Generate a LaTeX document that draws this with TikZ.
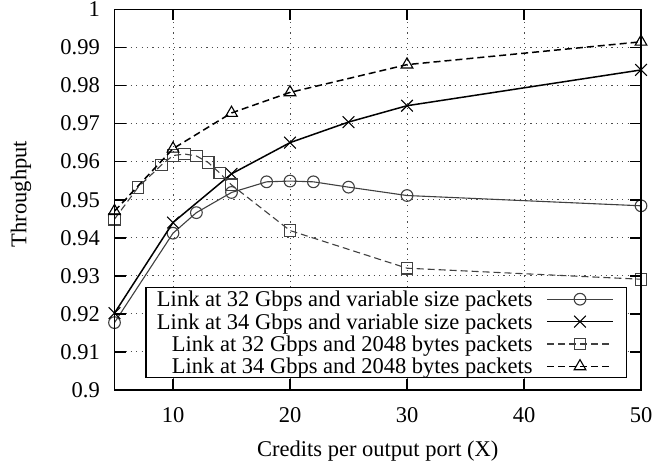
\documentclass[tikz,border=0pt]{standalone}
\usepackage{fontspec}
\setmainfont{Liberation Serif}
\usetikzlibrary{shapes.geometric,shapes.misc}

\tikzset{
  lbl/.style={font=\fontsize{22.5bp}{26bp}\selectfont, inner sep=0pt},
  frame/.style={line width=1.6bp, black},
  tickmark/.style={line width=1.6bp, black},
  gridline/.style={black!70, line width=0.9bp, dash pattern=on 1.2bp off 4.2bp},
  mk/.style={draw, inner sep=0pt, outer sep=0pt, minimum size=11.7bp, line width=1.1bp},
  mkcirc/.style={mk, circle},
  mksq/.style={mk, rectangle},
  mktri/.style={mk, regular polygon, regular polygon sides=3, minimum size=13.5bp},
  mkx/.style={mk, cross out},
  serA/.style={black!75, line width=1.1bp},
  serB/.style={black, line width=1.5bp},
  serC/.style={black!75, line width=1.1bp, dash pattern=on 7bp off 4bp},
  serD/.style={black, line width=1.5bp, dash pattern=on 7bp off 4bp},
  legendbox/.style={draw, fill=white, line width=1.5bp, inner sep=0pt, outer sep=0pt,
    minimum width=480.7bp, minimum height=90bp, anchor=north west}
}

\begin{document}
\begin{tikzpicture}[x=1bp,y=-1bp]
\useasboundingbox (0,0) rectangle (664,463);

\begin{scope}[shift={(56,3814.5)}, x=11.7bp, y=38.05bp]
  % grid
  \foreach \v in {91,...,99} \draw[gridline] (5,\v) -- (50,\v);
  \foreach \u in {10,20,30,40} \draw[gridline] (\u,90) -- (\u,100);

  % data series A: 32 Gbps variable size (circles)
  \foreach \x/\y [count=\i] in {5/91.77,10/94.12,12/94.66,15/95.19,18/95.47,20/95.49,22/95.47,25/95.33,30/95.11,50/94.84}
    \node[mkcirc, black!75] (a\i) at (\x,\y) {};
  \draw[serA] (a1.center) \foreach \i in {2,...,10} {-- (a\i.center)};

  % data series B: 34 Gbps variable size (crosses)
  \foreach \x/\y [count=\i] in {5/92.02,10/94.40,15/95.68,20/96.50,25/97.04,30/97.47,50/98.41}
    \node[mkx, black] (b\i) at (\x,\y) {};
  \draw[serB] (b1.center) \foreach \i in {2,...,7} {-- (b\i.center)};

  % data series C: 32 Gbps 2048 bytes (squares)
  \foreach \x/\y [count=\i] in {5/94.49,7/95.32,9/95.91,10/96.16,11/96.20,12/96.15,13/95.98,14/95.70,15/95.39,20/94.19,30/93.20,50/92.91}
    \node[mksq, black!75] (c\i) at (\x,\y) {};
  \draw[serC] (c1.center) \foreach \i in {2,...,12} {-- (c\i.center)};

  % data series D: 34 Gbps 2048 bytes (triangles)
  \foreach \x/\y [count=\i] in {5/94.70,10/96.34,15/97.28,20/97.82,30/98.55,50/99.15}
    \node[mktri, black] (d\i) at (\x,\y) {};
  \draw[serD] (d1.center) \foreach \i in {2,...,6} {-- (d\i.center)};

  % frame and ticks
  \foreach \v in {91,...,99} {
    \draw[tickmark] (5,\v) -- ++(11bp,0);
    \draw[tickmark] (50,\v) -- ++(-11bp,0);
  }
  \foreach \u in {10,20,30,40} {
    \draw[tickmark] (\u,90) -- ++(0,11bp);
    \draw[tickmark] (\u,100) -- ++(0,-11bp);
  }
  \node[draw, frame, fill=none, inner sep=0pt, outer sep=0pt, minimum width=526.5bp, minimum height=380.5bp, anchor=south west] (plotframe) at (5,90) {};

  % tick labels
  \foreach \v/\t in {90/0.9,91/0.91,92/0.92,93/0.93,94/0.94,95/0.95,96/0.96,97/0.97,98/0.98,99/0.99,100/1}
    \node[lbl, anchor=east] (yl\v) at ([xshift=-14.5bp]5,\v) {\t};
  \foreach \u in {10,20,30,40,50}
    \node[lbl] (xl\u) at ([yshift=-25bp]\u,90) {\u};
\end{scope}

% axis titles
\node[lbl, anchor=base] (xlabel) at (377.75,456.5) {Credits per output port (X)};
\node[lbl, rotate=90] (ylabel) at (21,194) {Throughput};

% legend
\node[legendbox] (legend) at (146,287.7) {};
\node[lbl, anchor=base east] (t1) at (532.7,306.7) {Link at 32 Gbps and variable size packets};
\node[lbl, anchor=base east] (t2) at (532.7,329.1) {Link at 34 Gbps and variable size packets};
\node[lbl, anchor=base east] (t3) at (532.7,351.5) {Link at 32 Gbps and 2048 bytes packets};
\node[lbl, anchor=base east] (t4) at (532.7,373.9) {Link at 34 Gbps and 2048 bytes packets};

\foreach \r/\yy in {1/299.2,2/321.6,3/344.0,4/366.4} {
  \coordinate (ls\r) at (547,\yy);
  \coordinate (le\r) at (613,\yy);
}
\node[mkcirc, black!75] (lm1) at (580,299.2) {};
\node[mkx, black] (lm2) at (580,321.6) {};
\node[mksq, black!75] (lm3) at (580,344.0) {};
\node[mktri, black] (lm4) at (580,366.4) {};
\draw[serA] (ls1) -- (le1);
\draw[serB] (ls2) -- (le2);
\draw[serC] (ls3) -- (le3);
\draw[serD] (ls4) -- (le4);
\end{tikzpicture}
\end{document}
